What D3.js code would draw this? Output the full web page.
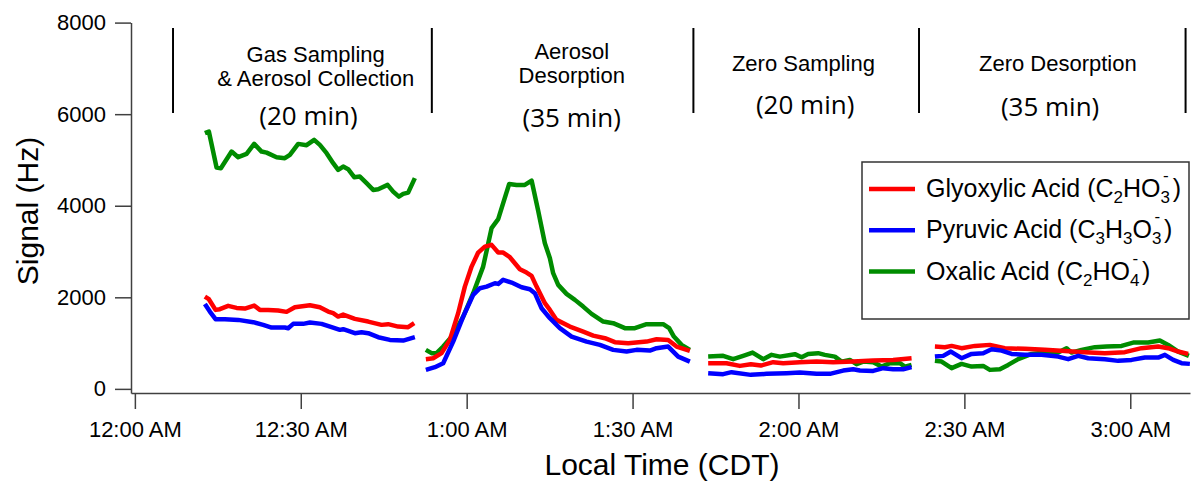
<!DOCTYPE html>
<html>
<head>
<meta charset="utf-8">
<script src="https://cdn.jsdelivr.net/npm/d3@7"></script>
<style>
  body { margin: 0; background: #fff; }
  svg { display: block; }
  .axis text { font-family: Arial, "Liberation Sans", sans-serif; font-size: 22px; fill: #000; }
  .axis path, .axis line { stroke: #404040; stroke-width: 1.5px; }
</style>
</head>
<body>
<div id="chart"></div>
<script>
// minutes after 12:00 AM, signal in Hz; null = gap between phases
var glyoxylic = [
  [12.66,2016],[13.38,1959],[14.59,1725],[15.37,1741],[16.87,1813],[18.39,1769],[19.89,1754],[21.57,1819],
  [22.6,1725],[24.1,1725],[25.91,1710],[27.43,1682],[28.93,1784],[31.65,1828],[33.45,1784],[34.96,1688],
  [35.86,1653],[36.76,1579],[37.67,1623],[39.78,1529],[42.19,1470],[44.61,1398],[45.8,1413],[47.61,1361],
  [49.42,1348],[50.51,1435],
  null,
  [52.62,649],[53.94,670],[55.46,780],[56.96,1070],[58.46,1653],[59.67,2234],[60.89,2671],[62.08,2977],
  [63.29,3108],[64.5,3145],[65.7,2977],[66.6,2977],[67.81,2876],[69.62,2614],[70.83,2540],[71.74,2468],
  [72.64,2234],[74.14,1872],[75.05,1725],[76.26,1507],[78.66,1361],[81.07,1251],[82.88,1164],[85,1107],
  [86.8,1020],[89.21,998],[92.53,1033],[94.34,1085],[96.44,1070],[97.96,924],[100.36,830],
  null,
  [103.67,561],[106.99,561],[109.4,502],[111.39,539],[113.2,509],[115.43,583],[117.23,561],[120.25,583],
  [123.27,596],[126.27,583],[129.89,596],[133.51,618],[137.12,633],[140.45,670],
  null,
  [144.67,924],[146.47,911],[147.69,939],[149.49,889],[151.9,939],[154.61,961],[157.32,889],[160.94,874],
  [164.56,852],[168.17,830],[171.79,802],[175.41,780],[179.02,802],[182.04,889],[185.05,924],[186.85,889],
  [188.66,815],[190.47,764]
];

var pyruvic = [
  [12.66,1856],[13.56,1688],[14.59,1522],[16.27,1522],[18.68,1507],[21.39,1457],[23.2,1398],[24.72,1339],
  [27.12,1339],[27.72,1326],[28.63,1420],[30.43,1420],[31.65,1448],[33.76,1420],[35.57,1348],[37.07,1289],
  [37.67,1304],[39.78,1216],[40.99,1238],[42.19,1216],[44,1129],[46.11,1070],[48.52,1055],[50.63,1129],
  null,
  [52.62,415],[54.25,474],[55.75,561],[57.56,1033],[59.37,1579],[61.18,2053],[62.39,2199],[63.6,2234],
  [65.1,2308],[65.7,2293],[66.6,2381],[68.12,2322],[69.93,2221],[71.43,2177],[72.33,2090],[73.55,1762],
  [75.05,1544],[76.85,1326],[78.97,1142],[81.68,1033],[84.09,961],[86.49,852],[88.92,815],[90.72,852],
  [93.13,836],[94.34,889],[96.44,924],[98.25,705],[100.36,596],
  null,
  [103.67,343],[106.38,321],[107.9,365],[111.39,306],[114.23,328],[117.85,343],[120.25,356],[123.27,328],
  [125.68,328],[128.08,400],[129.89,430],[131.1,400],[133.51,393],[135.32,452],[137.12,430],[138.93,430],
  [140.45,474],
  null,
  [144.67,705],[146.17,721],[147.56,815],[149.49,670],[151.3,764],[153.4,780],[154.92,867],[156.73,836],
  [158.54,764],[160.94,743],[163.96,743],[166.96,705],[168.77,649],[170.58,721],[172.39,670],[175.41,649],
  [177.81,612],[180.24,633],[182.64,684],[185.05,684],[186.26,743],[187.76,633],[189.28,561],[190.78,546]
];

var oxalic = [
  [12.66,5585],[13.38,5620],[14.77,4835],[15.55,4820],[17.49,5183],[18.68,5060],[20.2,5132],[21.57,5351],
  [22.91,5183],[23.82,5160],[25.62,5060],[27.12,5038],[28.03,5110],[29.53,5351],[31.05,5322],[32.42,5438],
  [33.45,5329],[34.67,5148],[35.86,4929],[36.76,4783],[37.67,4855],[38.57,4798],[39.66,4623],[40.69,4637],
  [41.9,4492],[43.09,4346],[44,4361],[45.7,4455],[46.71,4309],[47.74,4200],[48.52,4259],[49.42,4287],
  [50.63,4602],
  null,
  [52.62,852],[53.65,780],[54.56,780],[55.75,924],[57.56,1179],[59.37,1579],[61.18,2090],[62.98,2671],
  [64.5,3510],[65.7,3706],[66.6,4056],[67.69,4477],[69.02,4455],[70.52,4455],[71.74,4549],[72.93,3890],
  [74.14,3182],[75.05,2854],[75.64,2527],[76.55,2271],[78.06,2075],[79.57,1944],[81.07,1797],[82.59,1638],
  [84.69,1470],[86.49,1435],[88.61,1326],[90.42,1326],[92.53,1413],[95.53,1413],[96.62,1326],[97.47,1142],
  [98.86,961],[100.36,852],
  null,
  [103.67,705],[106.38,721],[108.19,649],[110,721],[111.7,793],[113.62,649],[115.14,743],[116.64,705],
  [119.35,758],[120.56,692],[121.75,764],[123.56,780],[124.77,743],[126.58,705],[127.79,596],[129.29,633],
  [130.5,539],[131.7,596],[133.51,583],[135.03,487],[136.53,561],[138.34,561],[139.24,487],[140.45,524],
  null,
  [144.67,612],[145.88,596],[147.69,452],[149.49,546],[151.3,487],[153.4,502],[154.61,415],[156.42,430],
  [157.92,524],[159.73,649],[162.15,764],[164.56,793],[166.96,793],[168.48,889],[169.38,793],[171.19,852],
  [173.6,911],[175.71,924],[178.43,939],[180.53,1011],[183.24,1011],[185.35,1055],[186.85,961],[188.66,815],
  [190.6,721]
];

var xTicks = [0, 30, 60, 90, 120, 150, 180];
var xTickLabels = ["12:00 AM", "12:30 AM", "1:00 AM", "1:30 AM", "2:00 AM", "2:30 AM", "3:00 AM"];
var yTicks = [0, 2000, 4000, 6000, 8000];

// phase separators (minutes) and phase captions
var phaseBounds = [6.9, 53.7, 101, 141.8, 190];
var phaseNames = [["Gas Sampling", "& Aerosol Collection"], ["Aerosol", "Desorption"], ["Zero Sampling"], ["Zero Desorption"]];
var phaseNameAt = [32.7, 79, 120.9, 166.9];
var phaseDurations = ["(20 min)", "(35 min)", "(20 min)", "(35 min)"];
var phaseDurationAt = [31.4, 79, 121.2, 165.5];

var legendItems = [
  { name: "Glyoxylic Acid (C", formula: [["2", "sub"], ["HO", ""], ["3", "sub"]], color: "#ff0000", data: glyoxylic },
  { name: "Pyruvic Acid (C", formula: [["3", "sub"], ["H", ""], ["3", "sub"], ["O", ""], ["3", "sub"]], color: "#0000ff", data: pyruvic },
  { name: "Oxalic Acid (C", formula: [["2", "sub"], ["HO", ""], ["4", "sub"]], color: "#008c00", data: oxalic }
];

var WIDTH = 1192, HEIGHT = 482;
var FONT = 'Arial, "Liberation Sans", sans-serif';

var svg = d3.select("#chart").append("svg")
  .attr("width", WIDTH).attr("height", HEIGHT);

var xScale = d3.scaleLinear().domain([-0.7, 190.8]).range([131, 1190]);
var yScale = d3.scaleLinear().domain([-90, 8000]).range([393, 22.6]);

var xAxis = d3.axisBottom(xScale).tickValues(xTicks).tickSize(16).tickSizeOuter(0).tickPadding(12)
  .tickFormat(function(d, i) { return xTickLabels[i]; });
var yAxis = d3.axisLeft(yScale).tickValues(yTicks).tickSize(16).tickSizeOuter(0).tickPadding(9)
  .tickFormat(d3.format("d"));

svg.append("g").attr("class", "axis")
  .attr("transform", "translate(0," + yScale(-90) + ")").call(xAxis);
svg.append("g").attr("class", "axis")
  .attr("transform", "translate(" + xScale(-0.7) + ",0)").call(yAxis);

// axis titles
svg.append("text")
  .attr("transform", "translate(38,211) rotate(-90)")
  .attr("text-anchor", "middle")
  .style("font-family", FONT).style("font-size", "30px")
  .text("Signal (Hz)");
svg.append("text")
  .attr("x", 662).attr("y", 475)
  .attr("text-anchor", "middle")
  .style("font-family", FONT).style("font-size", "30px")
  .text("Local Time (CDT)");

// phase separators and captions
var phases = svg.append("g").attr("class", "phases");
phaseBounds.forEach(function(t) {
  phases.append("line")
    .attr("x1", xScale(t)).attr("x2", xScale(t))
    .attr("y1", 28).attr("y2", 113)
    .attr("stroke", "#000").attr("stroke-width", 2);
});
var nameY = [[61.5, 86], [59, 83], [71], [71]];
var durY = [125, 127, 114, 116];
phaseNames.forEach(function(lines, i) {
  lines.forEach(function(s, j) {
    phases.append("text")
      .attr("x", xScale(phaseNameAt[i])).attr("y", nameY[i][j])
      .attr("text-anchor", "middle")
      .style("font-family", FONT).style("font-size", "22px")
      .text(s);
  });
  phases.append("text")
    .attr("x", xScale(phaseDurationAt[i])).attr("y", durY[i])
    .attr("text-anchor", "middle")
    .style("font-family", '"Open Sans", "Noto Sans", sans-serif').style("font-size", "26px")
    .text(phaseDurations[i]);
});

// series lines
svg.append("defs").append("clipPath").attr("id", "clip")
  .append("rect").attr("x", xScale(-0.7)).attr("y", 0)
  .attr("width", xScale(190.8) - xScale(-0.7)).attr("height", HEIGHT);

var lineGen = d3.line()
  .defined(function(d) { return d !== null; })
  .x(function(d) { return xScale(d[0]); })
  .y(function(d) { return yScale(d[1]); });

var chartBody = svg.append("g").attr("clip-path", "url(#clip)");
[legendItems[2], legendItems[0], legendItems[1]].forEach(function(s) {
  chartBody.append("path")
    .attr("d", lineGen(s.data))
    .attr("fill", "none")
    .attr("stroke", s.color)
    .attr("stroke-width", 4.5)
    .attr("stroke-linejoin", "round");
});

// legend
var legend = svg.append("g").attr("class", "legend");
legend.append("rect")
  .attr("x", 862).attr("y", 162).attr("width", 327).attr("height", 157)
  .attr("fill", "#fff").attr("stroke", "#333").attr("stroke-width", 1.5);

legendItems.forEach(function(s, i) {
  var base = 197 + i * 41.3;
  legend.append("line")
    .attr("x1", 869).attr("x2", 915)
    .attr("y1", base - 8).attr("y2", base - 8)
    .attr("stroke", s.color).attr("stroke-width", 4.5);
  var t = legend.append("text")
    .attr("x", 926).attr("y", base)
    .style("font-family", FONT).style("font-size", "25px");
  t.append("tspan").text(s.name);
  var shifted = false;
  s.formula.forEach(function(p) {
    var sp = t.append("tspan").text(p[0]);
    if (p[1] == "sub") {
      sp.style("font-size", "17px").attr("dy", shifted ? 0 : 6);
      shifted = true;
    } else {
      sp.attr("dy", shifted ? -6 : 0);
      shifted = false;
    }
  });
  // charge sign stacked above the last subscript
  t.append("tspan").text("-")
    .style("font-size", "17px").attr("dx", -7).attr("dy", -22);
  t.append("tspan").text(")").attr("dx", 4).attr("dy", 16);
});
</script>
</body>
</html>
